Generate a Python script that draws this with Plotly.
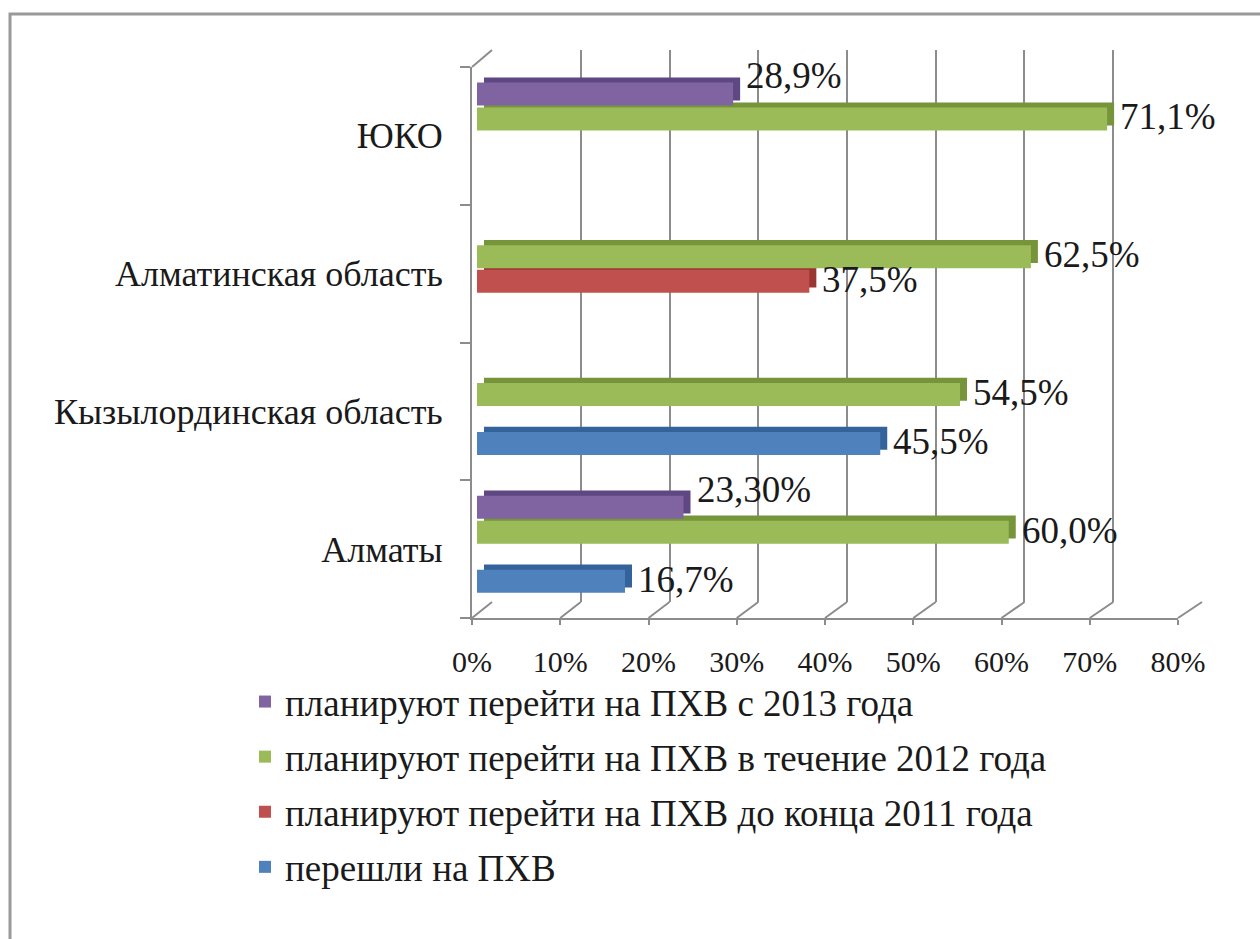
import plotly.graph_objects as go

# Regions (bottom to top)
categories = ["Алматы", "Кызылординская область", "Алматинская область", "ЮКО"]

# Series values as printed (comma decimal); None = no answer in that group
switched = ["16,7", "45,5", None, None]            # перешли на ПХВ
by_end_2011 = [None, None, "37,5", None]            # до конца 2011 года
during_2012 = ["60,0", "54,5", "62,5", "71,1"]      # в течение 2012 года
from_2013 = ["23,30", None, None, "28,9"]           # с 2013 года

series_names = [
    "перешли на ПХВ",
    "планируют перейти на ПХВ до конца 2011 года",
    "планируют перейти на ПХВ в течение 2012 года",
    "планируют перейти на ПХВ с 2013 года",
]
series_values = [switched, by_end_2011, during_2012, from_2013]

x_ticks = [0, 10, 20, 30, 40, 50, 60, 70, 80]
x_tick_text = [f"{t}%" for t in x_ticks]

# Colours: face / darker top-and-side face
face_colors = ["#4F81BD", "#C0504D", "#9BBB59", "#8064A2"]
dark_colors = ["#34639C", "#9A3532", "#76953A", "#5E4782"]

W, H = 1260, 939
FONT = "Liberation Serif, Times New Roman, serif"
TEXT_COL = "#1a1a1a"


def fx(px):
    return px / W


def fy(py):
    return 1 - py / H


def num(s):
    return None if s is None else float(s.replace(",", "."))


# geometry of the pseudo-3D frame (pixels)
FRONT_L, FRONT_R, FRONT_B, FRONT_T = 472, 1178, 618, 67
BACK_L, BACK_R, BACK_B, BACK_T = 492, 1202, 602, 50
BAR_L, BAR_R = 477, 1186
DEPTH_X, DEPTH_Y = 7, 5

# slot centre of each series relative to the band centre (px, up positive)
slot_shift = [-32, -7.5, 17, 42]
label_lift = [2, 2, 2, 18]
band_px = (FRONT_B - FRONT_T) / 4
bar_w = 23 / band_px
slot_off = [s / band_px - bar_w / 2 for s in slot_shift]

fig = go.Figure()

# back wall grid subplot (x, y)
fig.add_trace(go.Scatter(x=[None], y=[None], xaxis="x", yaxis="y",
                         showlegend=False, hoverinfo="skip"))
# front axes subplot (x2, y2)
fig.add_trace(go.Scatter(x=[0] * len(categories), y=categories, xaxis="x2", yaxis="y2",
                         mode="markers", marker=dict(opacity=0), showlegend=False,
                         hoverinfo="skip"))

# darker top/side faces of the bars (x3, y3)
for i, vals in enumerate(series_values):
    fig.add_trace(go.Bar(
        x=[num(v) for v in vals], y=categories, orientation="h",
        xaxis="x3", yaxis="y3", width=bar_w, offset=slot_off[i],
        marker=dict(color=dark_colors[i], line=dict(width=0)),
        showlegend=False, hoverinfo="skip",
    ))

# front faces of the bars (x4, y4)
for i, vals in enumerate(series_values):
    fig.add_trace(go.Bar(
        x=[num(v) for v in vals], y=categories, orientation="h",
        xaxis="x4", yaxis="y4", width=bar_w, offset=slot_off[i],
        marker=dict(color=face_colors[i], line=dict(width=0)),
        name=series_names[i], legendgroup=f"g{i}", legendrank=4 - i,
    ))

# value labels
annotations = []
for i, vals in enumerate(series_values):
    for cat, v in zip(categories, vals):
        if v is None:
            continue
        annotations.append(dict(
            x=num(v), y=cat, xref="x4", yref="y4", text=v + "%",
            showarrow=False, xanchor="left", yanchor="middle",
            xshift=11, yshift=slot_shift[i] + label_lift[i],
            font=dict(family=FONT, size=37, color=TEXT_COL),
        ))

grid_col = "#8C8C8C"
shapes = []
# floor edges from front ticks to back gridlines
for t in x_ticks:
    xf = FRONT_L + t * (FRONT_R - FRONT_L) / 80
    xb = BACK_L + t * (BACK_R - BACK_L) / 80
    shapes.append(dict(type="line", xref="paper", yref="paper",
                       x0=fx(xf), y0=fy(FRONT_B), x1=fx(xb), y1=fy(BACK_B),
                       line=dict(color=grid_col, width=2)))
# top edge of the side wall
shapes.append(dict(type="line", xref="paper", yref="paper",
                   x0=fx(FRONT_L), y0=fy(FRONT_T), x1=fx(BACK_L), y1=fy(BACK_T),
                   line=dict(color=grid_col, width=2)))
# outer frame
shapes.append(dict(type="rect", xref="paper", yref="paper",
                   x0=fx(10), y0=fy(945), x1=fx(1270), y1=fy(14),
                   line=dict(color="#9A9A9A", width=3)))

hidden = dict(visible=False, showgrid=False, zeroline=False, automargin=False)
cat_range = [-0.5, len(categories) - 0.5]

fig.update_layout(
    template="none",
    width=W, height=H, autosize=False,
    margin=dict(l=0, r=0, t=0, b=0, pad=0),
    paper_bgcolor="white", plot_bgcolor="rgba(0,0,0,0)",
    barmode="group",
    font=dict(family=FONT, color=TEXT_COL),
    xaxis=dict(domain=[fx(BACK_L), fx(BACK_R)], range=[-0.05, 80.05], anchor="y",
               tickvals=x_ticks, showgrid=True, gridcolor=grid_col, gridwidth=2,
               zeroline=False, showticklabels=False, ticks="", showline=False,
               automargin=False),
    yaxis=dict(domain=[fy(BACK_B), fy(BACK_T)], anchor="x", range=[0, 1], **hidden),
    xaxis2=dict(domain=[fx(FRONT_L), fx(FRONT_R)], range=[0, 80], anchor="y2",
                tickmode="array", tickvals=x_ticks, ticktext=x_tick_text,
                showgrid=False, zeroline=False, automargin=False,
                showline=True, linecolor=grid_col, linewidth=2,
                ticks="outside", ticklen=5, tickcolor=grid_col, tickwidth=2,
                ticklabelstandoff=11,
                tickfont=dict(family=FONT, size=30, color=TEXT_COL)),
    yaxis2=dict(domain=[fy(FRONT_B), fy(FRONT_T)], anchor="x2", type="category",
                categoryorder="array", categoryarray=categories, range=cat_range,
                showgrid=False, zeroline=False, showline=True, linecolor=grid_col,
                linewidth=2, ticks="outside", ticklen=10, tickcolor=grid_col,
                tickwidth=2, tickson="boundaries", ticklabelstandoff=20,
                automargin=False,
                tickfont=dict(family=FONT, size=36, color=TEXT_COL)),
    xaxis3=dict(domain=[fx(BAR_L + DEPTH_X), fx(BAR_R + DEPTH_X)], range=[0, 80],
                anchor="y3", **hidden),
    yaxis3=dict(domain=[fy(FRONT_B - DEPTH_Y), fy(FRONT_T - DEPTH_Y)], anchor="x3",
                type="category", categoryorder="array", categoryarray=categories,
                range=cat_range, **hidden),
    xaxis4=dict(domain=[fx(BAR_L), fx(BAR_R)], range=[0, 80], anchor="y4", **hidden),
    yaxis4=dict(domain=[fy(FRONT_B), fy(FRONT_T)], anchor="x4", type="category",
                categoryorder="array", categoryarray=categories, range=cat_range,
                **hidden),
    legend=dict(x=fx(245), y=fy(671), xanchor="left", yanchor="top",
                traceorder="grouped", tracegroupgap=4,
                font=dict(family=FONT, size=37, color=TEXT_COL),
                bgcolor="rgba(0,0,0,0)"),
    annotations=annotations,
    shapes=shapes,
    showlegend=True,
)

fig.write_html("out.html")
